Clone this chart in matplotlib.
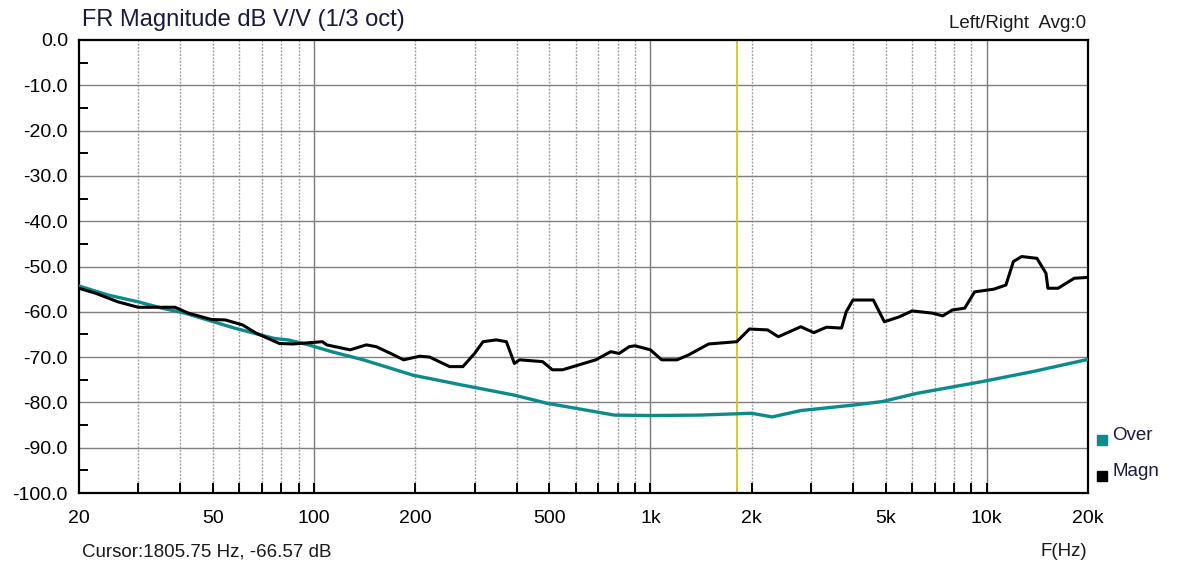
import matplotlib.pyplot as plt
import matplotlib.patches as mpatches
import numpy as np

plt.rcParams['font.family'] = ['Liberation Sans', 'DejaVu Sans']

# Magn (black) curve
magn_f = [20, 22.4, 26.1, 30, 38.6, 42.3, 49.5, 54.5, 61.3, 67.2, 78.9, 86.6,
          105.8, 109, 128, 143, 153, 169, 184.6, 206, 220.6, 253, 277, 300,
          318, 348, 373, 394, 408, 478, 511, 548, 614, 688, 762, 807, 865,
          900, 1000, 1080, 1200, 1300, 1490, 1806, 1970, 2230, 2400, 2800,
          3060, 3340, 3700, 3820, 4000, 4600, 4960, 5500, 6000, 6900, 7400,
          7900, 8600, 9200, 10500, 11400, 12000, 12700, 14100, 15000, 15200,
          16300, 18200, 20000]
magn_db = [-54.8, -55.9, -57.8, -59.0, -59.0, -60.3, -61.7, -61.8, -62.9, -64.7,
           -67.0, -67.1, -66.6, -67.3, -68.4, -67.3, -67.7, -69.2, -70.6, -69.8,
           -70.0, -72.1, -72.1, -69.2, -66.6, -66.2, -66.6, -71.4, -70.6, -71.0,
           -72.8, -72.8, -71.7, -70.6, -68.8, -69.2, -67.7, -67.5, -68.4, -70.6,
           -70.6, -69.5, -67.1, -66.6, -63.8, -64.0, -65.5, -63.3, -64.6, -63.4,
           -63.6, -60.0, -57.4, -57.4, -62.2, -61.1, -59.8, -60.3, -60.9, -59.6,
           -59.2, -55.6, -55.0, -54.1, -48.9, -47.8, -48.2, -51.5, -54.8, -54.8,
           -52.6, -52.4]

# Over (teal) curve
over_f = [20, 24.4, 30, 35.3, 41.3, 58, 76.3, 83.6, 96.4, 112.7, 140, 197, 277,
          394, 493, 600, 781, 1000, 1400, 2000, 2300, 2800, 4000, 4900, 6200,
          9700, 13700, 20000]
over_db = [-54.3, -56.3, -57.8, -59.2, -60.3, -63.6, -65.9, -66.2, -67.3, -68.8,
           -70.6, -74.0, -76.2, -78.4, -80.2, -81.3, -82.8, -82.9, -82.8, -82.4,
           -83.2, -81.8, -80.6, -79.8, -78.0, -75.4, -73.2, -70.5]

cursor_hz = 1805.75
cursor_db = -66.57

xtick_vals = [20, 50, 100, 200, 500, 1000, 2000, 5000, 10000, 20000]
xtick_labels = ['20', '50', '100', '200', '500', '1k', '2k', '5k', '10k', '20k']
ytick_vals = list(range(0, -101, -10))

W, H = 1181, 565
fig = plt.figure(figsize=(W / 100, H / 100), dpi=100)
L, R, T, B = 79, 1088, 40, 493
ax = fig.add_axes([L / W, 1 - B / H, (R - L) / W, (B - T) / H])

ax.set_xscale('log')
ax.set_xlim(20, 20000)
ax.set_ylim(-100, 0)

# grid lines
grid_x = [m * 10 ** e for e in range(1, 5) for m in range(1, 10)]
grid_x = [g for g in grid_x if 20 < g < 20000]
for g in grid_x:
    if g in (100, 1000, 10000):
        ax.axvline(g, color='#7a7a7a', lw=1.0, zorder=1)
    else:
        ax.axvline(g, color='#a8a0a8', lw=1.0, ls=(0, (1.5, 1)), zorder=1)
for v in ytick_vals[1:-1]:
    ax.axhline(v, color='#808080', lw=1.0, zorder=1)

ax.axvline(cursor_hz, color='#d8c800', lw=1.3, zorder=2)

ax.plot(over_f, over_db, color='#0a8c8c', lw=2.4, zorder=3)
ax.plot(magn_f, magn_db, color='black', lw=2.2, zorder=4)

ax.set_xticks(xtick_vals)
ax.set_xticklabels(xtick_labels)
ax.set_xticks(grid_x, minor=True)
ax.set_yticks(ytick_vals)
ax.set_yticklabels([f'{v:.1f}' for v in ytick_vals])
ax.set_yticks(np.arange(-95, 0, 10), minor=True)

ax.tick_params(axis='x', which='both', direction='in', length=7.2, width=1.4,
               labelsize=14, pad=12)
ax.tick_params(axis='y', which='major', length=0, labelsize=14, pad=8)
ax.tick_params(axis='y', which='minor', direction='in', length=6.5, width=1.4)
ax.xaxis.set_minor_formatter(plt.NullFormatter())
for sp in ax.spines.values():
    sp.set_linewidth(1.6)

def px(x, y):
    return x / W, 1 - y / H

fig.text(*px(82, 20), 'FR Magnitude dB V/V (1/3 oct)', fontsize=17,
         ha='left', va='center', color='#1a1a40')
fig.text(*px(1086, 23), 'Left/Right  Avg:0', fontsize=13.5, ha='right',
         va='center', color='#1a1a1a')
fig.text(*px(82, 552), f'Cursor:{cursor_hz:.2f} Hz, {cursor_db:.2f} dB',
         fontsize=13.5, ha='left', va='center', color='#1a1a1a')
fig.text(*px(1087, 552), 'F(Hz)', fontsize=13.5, ha='right', va='center',
         color='#1a1a1a')

# legend
for yy, col, name in [(440, '#0a8c8c', 'Over'), (476, 'black', 'Magn')]:
    fig.patches.append(mpatches.Rectangle(px(1097, yy + 5), 10 / W, 10 / H,
                                          transform=fig.transFigure,
                                          color=col))
    fig.text(*px(1112, yy - 5), name, fontsize=13.5, ha='left', va='center',
             color='#1a1a40')

fig.savefig('out.png', dpi=100)
